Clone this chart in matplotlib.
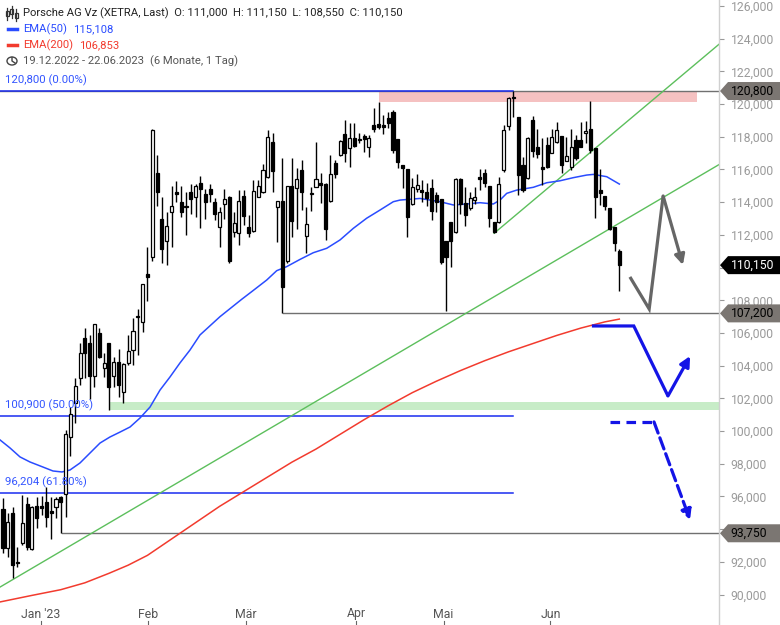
import matplotlib
matplotlib.use('Agg')
import matplotlib.pyplot as plt
import matplotlib.transforms as mtrans
from matplotlib.patches import Polygon, Rectangle, Circle
from matplotlib.lines import Line2D
import numpy as np

plt.rcParams['font.family'] = ['Roboto', 'DejaVu Sans']

# ---------------- data (daily candles 20.12.2022 .. 22.06.2023) ----------------
opens = [95.22, 92.83, 94.97, 91.98, 93.18, 95.52, 92.77, 95.42, 95.38, 95.69,
         95.11, 95.34, 95.99, 96.13, 99.62, 101.74, 103.23, 105.68, 105.37, 103.37,
         105.98, 103.84, 105.37, 103.37, 104.25, 102.41, 104.15, 104.96, 106.95, 106.65,
         109.61, 110.67, 115.77, 112.97, 111.65, 113.42, 114.65, 113.99, 113.72, 114.60,
         114.30, 115.15, 114.50, 114.79, 113.99, 112.46, 113.87, 114.34, 112.16, 112.10,
         114.38, 112.46, 112.24, 114.34, 114.64, 115.56, 117.70, 113.72, 114.07, 110.42,
         114.99, 114.85, 115.97, 111.95, 114.48, 114.95, 115.15, 115.09, 114.07, 116.37,
         116.88, 118.15, 117.29, 117.94, 117.86, 118.07, 117.39, 118.72, 118.78, 118.72,
         119.13, 119.53, 117.84, 116.27, 116.00, 113.89, 114.80, 114.74, 114.64, 114.84,
         114.44, 114.19, 111.62, 112.81, 112.19, 115.42, 113.97, 113.62, 114.13, 115.56,
         115.76, 114.99, 112.81, 112.81, 115.97, 118.68, 120.45, 119.19, 116.27, 115.46,
         119.02, 117.39, 116.13, 117.50, 117.03, 117.66, 118.05, 116.54, 116.13, 117.80,
         117.80, 118.21, 118.45, 117.29, 114.74, 114.40, 113.62, 112.50, 111.00]
highs = [95.89, 94.97, 95.38, 92.93, 96.09, 95.99, 95.42, 95.99, 96.03, 96.60,
         95.99, 95.99, 96.03, 100.07, 101.50, 103.23, 105.37, 106.29, 105.88, 106.53,
         106.29, 104.76, 105.37, 104.55, 105.00, 104.15, 105.88, 106.90, 107.45, 109.00,
         111.28, 118.48, 116.89, 114.30, 113.42, 114.99, 115.32, 114.99, 114.65, 115.11,
         115.11, 115.60, 114.79, 115.11, 114.28, 113.73, 114.79, 114.38, 113.42, 114.75,
         114.75, 113.22, 115.36, 115.36, 116.33, 118.41, 118.21, 114.07, 116.68, 114.99,
         116.68, 116.07, 116.58, 113.72, 114.95, 117.70, 115.76, 115.15, 116.89, 116.58,
         117.80, 119.03, 118.82, 118.82, 118.21, 118.15, 118.11, 119.74, 120.10, 119.33,
         119.53, 119.64, 117.84, 116.27, 116.00, 115.46, 115.70, 115.35, 115.19, 115.41,
         114.60, 114.19, 111.62, 112.81, 115.46, 115.46, 114.91, 114.64, 114.94, 116.01,
         116.01, 114.99, 112.81, 115.56, 118.72, 120.45, 120.80, 119.19, 116.78, 118.00,
         119.29, 118.45, 117.90, 118.00, 118.45, 118.92, 118.05, 118.00, 118.45, 118.11,
         118.92, 118.98, 120.21, 117.29, 116.01, 114.40, 113.62, 112.50, 111.15]
lows = [92.53, 92.32, 91.00, 91.71, 93.04, 92.73, 92.73, 94.06, 94.87, 94.16,
        93.38, 94.67, 93.75, 94.77, 98.48, 100.52, 102.82, 103.23, 101.94, 102.68,
        104.45, 103.33, 101.30, 102.72, 102.10, 101.70, 104.05, 104.05, 104.66, 106.08,
        107.98, 110.43, 113.77, 110.30, 110.16, 111.24, 114.03, 113.12, 112.02, 113.26,
        113.08, 112.40, 112.95, 114.03, 112.91, 111.28, 112.95, 110.30, 111.85, 111.38,
        112.61, 111.89, 112.20, 114.30, 114.54, 115.46, 114.64, 111.58, 107.20, 110.26,
        111.89, 112.34, 113.50, 110.91, 113.48, 114.90, 113.93, 111.69, 114.03, 115.46,
        116.80, 116.48, 116.13, 117.39, 117.60, 117.09, 116.74, 118.31, 118.50, 118.17,
        118.51, 117.03, 116.07, 114.84, 111.85, 113.80, 114.60, 114.03, 113.76, 112.91,
        113.40, 110.22, 107.36, 110.01, 112.10, 113.30, 112.54, 113.50, 113.90, 114.74,
        114.95, 112.46, 112.10, 112.75, 115.86, 118.41, 119.23, 114.44, 114.64, 115.39,
        116.78, 116.68, 115.05, 116.07, 116.98, 117.60, 115.76, 116.50, 115.97, 116.60,
        117.35, 117.60, 117.00, 113.01, 113.83, 113.52, 112.30, 111.03, 108.55]
closes = [92.83, 94.46, 91.81, 91.95, 94.36, 92.89, 95.34, 94.67, 95.32, 94.73,
          94.97, 95.83, 95.69, 99.80, 101.03, 102.76, 104.76, 104.76, 103.37, 106.53,
          104.55, 104.15, 102.68, 104.25, 102.82, 104.09, 104.92, 106.14, 106.98, 109.00,
          109.45, 118.42, 114.65, 111.14, 112.57, 113.77, 114.48, 113.42, 113.78, 114.18,
          114.97, 114.81, 114.03, 114.48, 113.26, 113.42, 114.18, 110.43, 112.75, 114.07,
          113.18, 112.10, 114.68, 115.00, 115.97, 117.97, 115.93, 114.07, 108.83, 114.99,
          112.87, 115.40, 114.60, 112.64, 114.50, 115.40, 115.05, 112.34, 115.70, 115.72,
          117.76, 116.99, 117.94, 117.46, 117.78, 117.86, 117.90, 118.47, 118.58, 118.62,
          118.82, 117.19, 116.48, 116.07, 113.07, 114.95, 115.03, 114.64, 114.23, 113.48,
          114.03, 110.36, 110.66, 111.64, 115.42, 113.89, 113.21, 114.23, 114.33, 115.42,
          115.15, 113.01, 112.19, 115.09, 118.41, 120.35, 120.35, 115.66, 114.74, 117.90,
          117.15, 116.94, 116.05, 116.13, 117.96, 118.41, 116.27, 116.82, 117.35, 116.68,
          117.39, 118.37, 117.19, 114.29, 114.58, 113.77, 112.34, 111.52, 110.15]

# EMA curves (candle index, value)
ema50_idx = [-0.62, 1.45, 3.53, 5.61, 8.31, 10.38, 12.25, 13.91, 15.99, 18.07, 20.15, 22.22,
             24.30, 26.38, 28.45, 30.53, 32.61, 34.68, 36.76, 38.84, 40.91, 45.07, 49.57,
             51.92, 54.77, 56.84, 58.92, 61.68, 64.44, 67.23, 69.99, 72.75, 75.53, 78.30,
             81.06, 82.45, 86.60, 90.76, 93.52, 96.30, 99.06, 101.83, 103.22, 104.61,
             106.69, 110.13, 112.92, 115.68, 118.44, 121.22, 122.60, 125.38, 128.0]
ema50_val = [99.46, 98.97, 98.42, 98.11, 97.80, 97.56, 97.50, 97.62, 98.05, 98.66, 99.27, 99.64,
             99.94, 100.25, 100.80, 101.47, 102.51, 103.31, 104.17, 104.96, 105.88, 107.00, 108.06,
             108.59, 109.24, 109.81, 110.06, 110.50, 110.91, 111.18, 111.69, 112.40, 113.02, 113.52,
             114.03, 114.13, 114.23, 114.03, 113.83, 113.89, 113.97, 113.89, 114.13, 114.54,
             114.74, 114.91, 115.19, 115.31, 115.50, 115.66, 115.70, 115.56, 115.11]
ema200_idx = [-0.62, 6, 12, 17, 22, 26, 30, 35, 40, 45, 50, 55, 60, 65, 70, 75, 80, 85,
              90, 95, 100, 105, 110, 115, 120, 125, 128]
ema200_val = [89.55, 89.95, 90.30, 90.72, 91.30, 91.80, 92.40, 93.40, 94.40, 95.40, 96.30,
              97.20, 98.10, 98.90, 99.80, 100.70, 101.55, 102.35, 103.05, 103.70, 104.30,
              104.85, 105.35, 105.85, 106.30, 106.68, 106.85]

# horizontal levels / fibonacci
fib_levels = [120.8, 100.9, 96.204]
fib_texts = ['120,800 (0.00%)', '100,900 (50.00%)', '96,204 (61.80%)']
fib_end = 105.9
support_levels = [120.8, 107.2, 93.75]
support_start = [-0.62, 58.2, 12.25]
support_labels = ['120,800', '107,200', '93,750']
last_close = 110.15
resist_zone = (78.1, 144.1, 120.13, 120.8)
support_zone = (22.0, 148.7, 101.29, 101.78)

# trend lines (index, value)
trend1 = [(-0.62, 90.46), (148.7, 116.30)]
trend2 = [(102.0, 112.10), (148.7, 123.66)]

# scenario arrows
gray_arrow = [(130.2, 109.43), (134.2, 107.47), (137.1, 114.38), (141.2, 110.16)]
blue_arrow = [(122.3, 106.43), (131.0, 106.43), (138.1, 102.15), (142.7, 104.59)]
blue_dash_arrow = [(126.1, 100.56), (135.2, 100.56), (142.7, 94.56)]

month_pos = [7.9, 30.2, 50.5, 73.3, 91.5, 113.7]
month_labels = ["Jan '23", 'Feb', 'Mär', 'Apr', 'Mai', 'Jun']
yticks = list(range(90, 127, 2))
hidden_ticks = [94, 110]   # covered by the price tags

# ---------------- figure ----------------
W, H = 780, 625
fig = plt.figure(figsize=(W / 100, H / 100), dpi=100)
AXR = 719 / W
ax = fig.add_axes([0, 0, AXR, 1])
ax.set_xlim(-0.623, 148.7)
ax.set_ylim(88.14, 126.367)

for s in ['top', 'left', 'bottom']:
    ax.spines[s].set_visible(False)
ax.spines['right'].set_color('#d0d0d0')
ax.spines['right'].set_linewidth(1)
ax.yaxis.tick_right()
ax.set_yticks(yticks)
ax.set_yticklabels(['' if v in hidden_ticks else ('%d,000' % v) for v in yticks])
ax.tick_params(axis='y', length=3.5, width=0.8, color='#999999', labelcolor='#9a9a9a',
               labelsize=8.7, pad=5)
ax.set_xticks([])

O = np.array(opens); Hh = np.array(highs); L = np.array(lows); C = np.array(closes)
x = np.arange(len(O))

# zones
ax.add_patch(Rectangle((resist_zone[0], resist_zone[2]), resist_zone[1] - resist_zone[0],
                       resist_zone[3] - resist_zone[2], facecolor='#f5c1c1', edgecolor='none', zorder=1))
ax.add_patch(Rectangle((support_zone[0], support_zone[2]), support_zone[1] - support_zone[0],
                       support_zone[3] - support_zone[2], facecolor='#c7ecc7', edgecolor='none', zorder=1))

# support lines
for lv, st in zip(support_levels, support_start):
    ax.plot([st, 148.7], [lv, lv], color='#707070', lw=1.0, zorder=2)

# fib lines
for lv, tx in zip(fib_levels, fib_texts):
    ax.plot([-0.62, fib_end], [lv, lv], color='#1a2cf0', lw=1.1, zorder=2.1)
    ax.text(0.4, lv + 0.3, tx, color='#3355ff', fontsize=8.2, va='bottom', ha='left', zorder=6)

# trend lines
for tl in (trend1, trend2):
    ax.plot([tl[0][0], tl[1][0]], [tl[0][1], tl[1][1]], color='#5cbf5c', lw=1.0, zorder=2.2)

# EMAs
ax.plot(ema200_idx, ema200_val, color='#f23b2e', lw=1.1, zorder=2.5)
ax.plot(ema50_idx, ema50_val, color='#2a4cff', lw=1.1, zorder=2.5)

# candles
ax.vlines(x, L, Hh, color='black', lw=1.0, zorder=3)
lo = np.minimum(O, C)
hgt = np.maximum(np.abs(C - O), 0.07)
up = C >= O
ax.bar(x[up], hgt[up], bottom=lo[up], width=0.64, facecolor='white', edgecolor='black',
       linewidth=0.9, zorder=4)
ax.bar(x[~up], hgt[~up], bottom=lo[~up], width=0.64, facecolor='black', edgecolor='black',
       linewidth=0.9, zorder=4)

# scenario arrows
def draw_arrow(pts, color, ls='-'):
    xs = [p[0] for p in pts[:-1]]
    ys = [p[1] for p in pts[:-1]]
    kw = dict(color=color, lw=2.3, solid_capstyle='butt', solid_joinstyle='miter', zorder=6)
    if ls == '--':
        kw['dashes'] = (3, 2)
    ax.plot(xs, ys, **kw)
    ax.annotate('', xy=pts[-1], xytext=pts[-2],
                arrowprops=dict(arrowstyle='-|>', color=color, lw=2.3, ls=ls,
                                mutation_scale=15, shrinkA=0, shrinkB=0), zorder=6)

draw_arrow(gray_arrow, '#666666')
draw_arrow(blue_arrow, '#1414e6')
draw_arrow(blue_dash_arrow, '#1414e6', ls='--')

# x labels inside the bottom
bt = mtrans.blended_transform_factory(ax.transData, ax.transAxes)
for p, lb in zip(month_pos, month_labels):
    ax.text(p, 1 - 614 / H, lb, transform=bt, ha='center', va='center', fontsize=8.8, color='#555555')
    ax.plot([p, p], [0, 4 / H], transform=bt, color='#666666', lw=0.8, clip_on=False)

# right tags
rt = mtrans.blended_transform_factory(ax.transAxes, ax.transData)
hh = 9 / 16.35
def tag(level, text, fc, tc):
    x0 = 720 / 719
    x1 = 728 / 719
    x2 = 781 / 719
    poly = Polygon([(x0, level), (x1, level + hh), (x2, level + hh), (x2, level - hh), (x1, level - hh)],
                   closed=True, transform=rt, facecolor=fc, edgecolor='none', clip_on=False, zorder=7)
    ax.add_patch(poly)
    ax.text(730.5 / 719, level, text, transform=rt, color=tc, fontsize=8.7, va='center', ha='left',
            clip_on=False, zorder=8)

for lv, lb in zip(support_levels, support_labels):
    tag(lv, lb, '#7b7672', 'black')
tag(last_close, '110,150', 'black', 'white')

# ---------------- header ----------------
def fx(px):
    return px / W
def fy(py):
    return 1 - py / H

# candle icon
for cx, y0, y1, b0, b1 in [(7, 8, 20, 11, 16), (11.5, 6, 18, 9, 14), (16, 9, 21, 13, 18)]:
    fig.add_artist(Line2D([fx(cx), fx(cx)], [fy(y0), fy(y1)], color='#333333', lw=0.9))
    fig.add_artist(Rectangle((fx(cx - 1.5), fy(b1)), 3 / W, (b1 - b0) / H, facecolor='white',
                             edgecolor='#333333', lw=0.9))
fig.text(fx(23), fy(13), 'Porsche AG Vz (XETRA, Last)  O: 111,000  H: 111,150  L: 108,550  C: 110,150',
         fontsize=8.1, color='#222222', va='center', ha='left')
fig.add_artist(Line2D([fx(8), fx(17)], [fy(29), fy(29)], color='#2a4cff', lw=2.5))
fig.text(fx(23), fy(29), 'EMA(50)', fontsize=8.1, color='#2a4cff', va='center', ha='left')
fig.text(fx(73), fy(29), '115,108', fontsize=8.1, color='#2a4cff', va='center', ha='left')
fig.add_artist(Line2D([fx(8), fx(17)], [fy(45), fy(45)], color='#f23b2e', lw=2.5))
fig.text(fx(23), fy(45), 'EMA(200)', fontsize=8.1, color='#f23b2e', va='center', ha='left')
fig.text(fx(79), fy(45), '106,853', fontsize=8.1, color='#f23b2e', va='center', ha='left')
fig.add_artist(Circle((fx(12), fy(61)), 5 / W, transform=fig.transFigure, facecolor='none',
                      edgecolor='#444444', lw=1.0))
fig.add_artist(Line2D([fx(12), fx(12), fx(15)], [fy(57.5), fy(61), fy(63)], color='#444444', lw=1.0))
fig.text(fx(23), fy(61), '19.12.2022 - 22.06.2023', fontsize=8.1, color='#555555', va='center', ha='left')
fig.text(fx(150), fy(61), '(6 Monate, 1 Tag)', fontsize=8.1, color='#555555', va='center', ha='left')

fig.savefig('out.png', dpi=100)
